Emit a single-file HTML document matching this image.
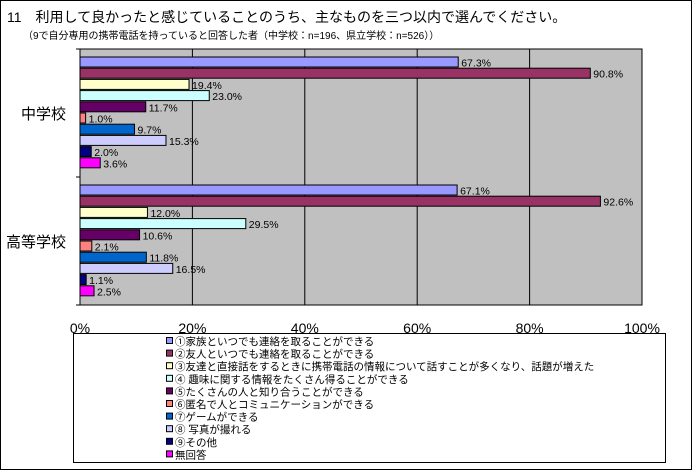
<!DOCTYPE html>
<html><head><meta charset="utf-8"><style>
body{margin:0;background:#fff;font-family:"Liberation Sans","Noto Sans CJK JP",sans-serif;}
#wrap{position:relative;width:690px;height:468px;border:1px solid #000;overflow:hidden;}
.t{position:absolute;white-space:nowrap;color:#000;}
</style></head><body>
<div id="wrap">
<div class="t" style="left:6px;top:6px;font-size:14px;">11　利用して良かったと感じていることのうち、主なものを三つ以内で選んでください。</div>
<div class="t" style="left:22px;top:26px;font-size:10px;">（9で自分専用の携帯電話を持っていると回答した者（中学校：n=196、県立学校：n=526））</div>
<svg id="chart" width="692" height="470" style="position:absolute;left:-1px;top:-1px"></svg>
</div>
<script>
const categories=["中学校","高等学校"];
const seriesNames=["①家族といつでも連絡を取ることができる","②友人といつでも連絡を取ることができる","③友達と直接話をするときに携帯電話の情報について話すことが多くなり、話題が増えた","④ 趣味に関する情報をたくさん得ることができる","⑤たくさんの人と知り合うことができる","⑥匿名で人とコミュニケーションができる","⑦ゲームができる","⑧ 写真が撮れる","⑨その他","無回答"];
const juniorValues=[67.3,90.8,19.4,23.0,11.7,1.0,9.7,15.3,2.0,3.6];
const highValues=[67.1,92.6,12.0,29.5,10.6,2.1,11.8,16.5,1.1,2.5];
const tickLabels=["0%","20%","40%","60%","80%","100%"];
const tickValues=[0,20,40,60,80,100];
const colors=["#9999FF","#993366","#FFFFCC","#CCFFFF","#660066","#FF8080","#0066CC","#CCCCFF","#000080","#FF00FF"];
const NS="http://www.w3.org/2000/svg";
const svg=document.getElementById('chart');
const X0=80,X1=642,Y0=49,Y1=305;
const x=v=>X0+(X1-X0)*v/100;
const groupH=(Y1-Y0)/categories.length;
function mk(t,a){const e=document.createElementNS(NS,t);for(const k in a)e.setAttribute(k,a[k]);svg.appendChild(e);return e;}
let e=mk('rect',{x:X0,y:Y0,width:X1-X0,height:Y1-Y0,fill:'#C0C0C0',stroke:'#000','stroke-width':1});


tickValues.forEach((v,i)=>{
 if(i>0&&i<tickValues.length-1){const g=mk('line',{x1:x(v),x2:x(v),y1:Y0,y2:Y1,stroke:'#000','stroke-width':1});
 
 }
 const t=mk('text',{x:x(v),y:333,'font-size':14,'text-anchor':'middle'});t.textContent=tickLabels[i];
 
 
});
[Y0,Y0+groupH,Y1].forEach(yy=>{mk('line',{x1:X0-4,x2:X0,y1:yy,y2:yy,stroke:'#000'});});
const allVals=[juniorValues,highValues];
categories.forEach((c,gi)=>{
 const gy=Y0+gi*groupH;
 const t=mk('text',{x:66,y:gy+groupH/2+6,'font-size':15,'text-anchor':'end'});t.textContent=c;
 
 
 const pitch=11.2,start=gy+8;
 allVals[gi].forEach((v,si)=>{
  const by=start+si*pitch;
  const r=mk('rect',{x:X0,y:by,width:x(v)-X0,height:10,fill:colors[si],stroke:'#000','stroke-width':1});
  
  
  const l=mk('text',{x:x(v)+3,y:by+9.5,'font-size':10.5});l.textContent=v.toFixed(1)+'%';
  
  
 });
});
let lb=mk('rect',{x:73.5,y:333.5,width:592,height:129,fill:'#fff',stroke:'#000'});


seriesNames.forEach((n,i)=>{
 const yy=341+i*12.6;
 const m=mk('rect',{x:166.5,y:yy-3.5,width:6,height:6,fill:colors[i],stroke:'#000','stroke-width':1});
 
 
 const t=mk('text',{x:175,y:yy+4,'font-size':10.5});t.textContent=n;
 
 
});
</script>
</body></html>
